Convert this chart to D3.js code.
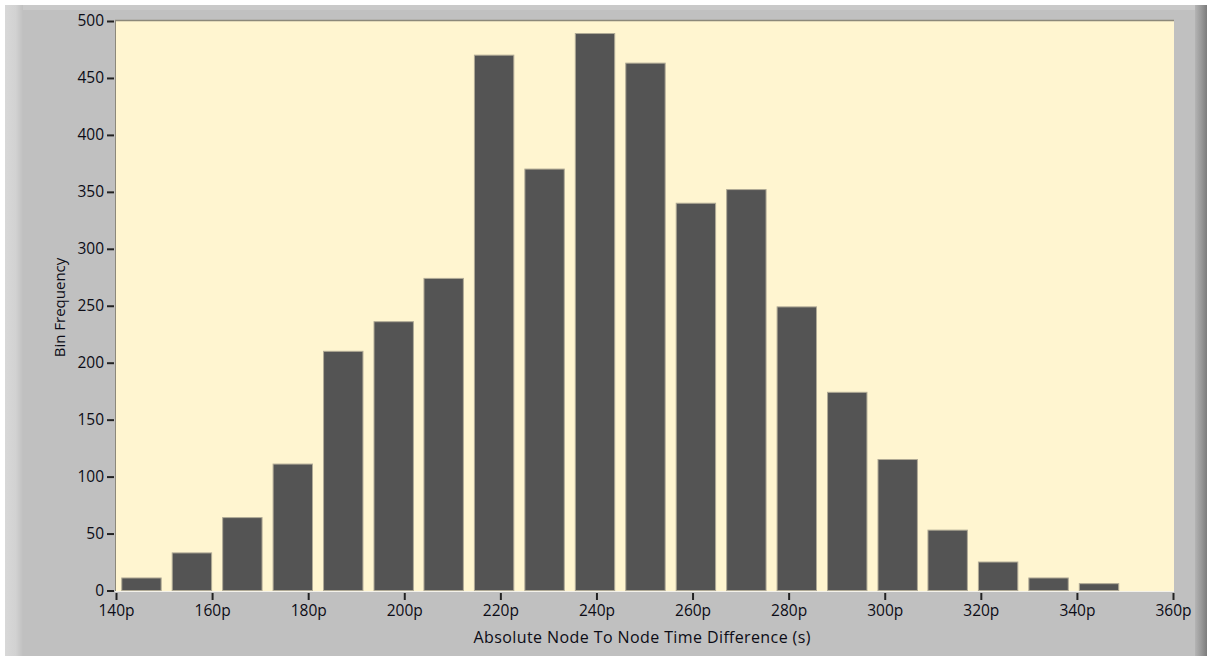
<!DOCTYPE html>
<html>
<head>
<meta charset="utf-8">
<script src="https://cdn.jsdelivr.net/npm/d3@7"></script>
<style>
  html, body { margin: 0; padding: 0; background: #ffffff; }
  svg { display: block; font-family: "Open Sans", "Noto Sans", sans-serif; }
</style>
</head>
<body>
<svg id="chart" width="1207" height="656"></svg>
<script>
// Histogram bins: centre of each bin (in ps) and the count in it
const binCenters = [145.3, 155.8, 166.3, 176.8, 187.3, 197.8, 208.2, 218.7, 229.2, 239.7,
                    250.2, 260.7, 271.2, 281.7, 292.2, 302.7, 313.1, 323.6, 334.1, 344.6];
const binCounts  = [11, 33, 64, 111, 210, 236, 274, 470, 370, 489,
                    463, 340, 352, 249, 174, 115, 53, 25, 11, 6];
const barWidthPs = 8.2;

const xTicks = [140, 160, 180, 200, 220, 240, 260, 280, 300, 320, 340, 360];
const yTicks = [0, 50, 100, 150, 200, 250, 300, 350, 400, 450, 500];
const xTitle = "Absolute Node To Node Time Difference (s)";
const yTitle = "Bin Frequency";

const W = 1207, H = 656;
const plot = { left: 115, top: 20, right: 1174, bottom: 591 };

const svg = d3.select("#chart");
const defs = svg.append("defs");

// Panel frame shading
const lg = defs.append("linearGradient").attr("id", "leftEdge").attr("x1", 0).attr("x2", 1);
lg.append("stop").attr("offset", 0).attr("stop-color", "#d8d8d8");
lg.append("stop").attr("offset", 0.6).attr("stop-color", "#d2d2d2");
lg.append("stop").attr("offset", 1).attr("stop-color", "#c0c0c0");
const rg = defs.append("linearGradient").attr("id", "rightEdge").attr("x1", 0).attr("x2", 1);
rg.append("stop").attr("offset", 0).attr("stop-color", "#b4b4b4");
rg.append("stop").attr("offset", 0.5).attr("stop-color", "#9a9a9a");
rg.append("stop").attr("offset", 1).attr("stop-color", "#7c7c7c");

svg.append("rect").attr("x", 5).attr("y", 5).attr("width", W - 5).attr("height", H - 5).attr("fill", "#c0c0c0");
svg.append("rect").attr("x", 5).attr("y", 5).attr("width", W - 5).attr("height", 5).attr("fill", "#c9c9c9");
svg.append("rect").attr("x", 5).attr("y", 5).attr("width", 18).attr("height", H - 5).attr("fill", "url(#leftEdge)");
svg.append("rect").attr("x", W - 12).attr("y", 5).attr("width", 12).attr("height", H - 5).attr("fill", "url(#rightEdge)");

// Scales
const x = d3.scaleLinear().domain([140, 360]).range([116, 1173]);
const y = d3.scaleLinear().domain([0, 500]).range([590.5, 21]);

// Plot area
svg.append("rect")
  .attr("x", plot.left).attr("y", plot.top)
  .attr("width", plot.right - plot.left).attr("height", plot.bottom - plot.top)
  .attr("fill", "#fff5d0");
svg.append("line").attr("x1", plot.left).attr("x2", plot.right).attr("y1", plot.top + 0.5).attr("y2", plot.top + 0.5)
  .attr("stroke", "#8c887a").attr("stroke-width", 1.5);
svg.append("line").attr("x1", plot.left + 0.5).attr("x2", plot.left + 0.5).attr("y1", plot.top).attr("y2", plot.bottom)
  .attr("stroke", "#8c887a").attr("stroke-width", 1);
svg.append("line").attr("x1", plot.left).attr("x2", plot.right).attr("y1", plot.bottom + 0.5).attr("y2", plot.bottom + 0.5)
  .attr("stroke", "#f4f2ea").attr("stroke-width", 1);

// Bars
svg.append("g").selectAll("rect")
  .data(binCenters.map((c, i) => ({ c, n: binCounts[i] })))
  .join("rect")
  .attr("x", d => x(d.c - barWidthPs / 2))
  .attr("width", d => x(d.c + barWidthPs / 2) - x(d.c - barWidthPs / 2))
  .attr("y", d => y(d.n))
  .attr("height", d => y(0) - y(d.n))
  .attr("fill", "#545454")
  .attr("stroke", "#b0aa96")
  .attr("stroke-width", 1);

// Axes
const textColor = "#0c0c16";
const yAxis = d3.axisLeft(y).tickValues(yTicks).tickSize(7).tickPadding(3).tickFormat(d3.format("d"));
const gy = svg.append("g").attr("transform", `translate(${plot.left - 1},0)`).call(yAxis);
gy.select(".domain").remove();
gy.selectAll(".tick line").attr("stroke", "#222").attr("stroke-width", 2);
gy.selectAll(".tick text").attr("fill", textColor).style("font-size", "15.5px").attr("font-family", "Open Sans");

const xAxis = d3.axisBottom(x).tickValues(xTicks).tickSize(7).tickPadding(5).tickFormat(d => d + "p");
const gx = svg.append("g").attr("transform", `translate(0,${plot.bottom + 2})`).call(xAxis);
gx.select(".domain").remove();
gx.selectAll(".tick line").attr("stroke", "#222").attr("stroke-width", 2);
gx.selectAll(".tick text").attr("fill", textColor).style("font-size", "15.5px").attr("font-family", "Open Sans");

// Axis titles
svg.append("text")
  .attr("x", 642).attr("y", 643)
  .attr("text-anchor", "middle")
  .attr("fill", textColor).style("font-size", "16px")
  .attr("textLength", 337).attr("lengthAdjust", "spacing")
  .text(xTitle);

svg.append("text")
  .attr("transform", `translate(65,${(plot.top + plot.bottom) / 2 + 2}) rotate(-90)`)
  .attr("text-anchor", "middle")
  .attr("fill", textColor).style("font-size", "15px")
  .text(yTitle);
</script>
</body>
</html>
